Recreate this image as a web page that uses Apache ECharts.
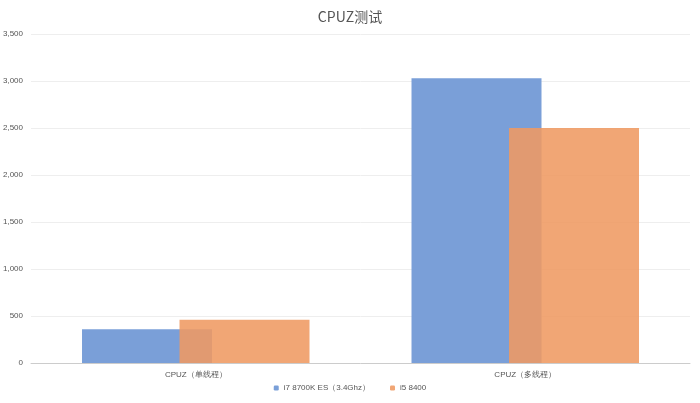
<!DOCTYPE html>
<html>
<head>
<meta charset="utf-8">
<script src="https://cdn.jsdelivr.net/npm/echarts@6/dist/echarts.min.js"></script>
</head>
<body style="margin:0">
<div id="main" style="width:700px;height:403px;"></div>
<script>
var categories = ['CPUZ（单线程）', 'CPUZ（多线程）'];
var seriesNames = ['i7 8700K ES（3.4Ghz）', 'i5 8400'];
var i7Values = [360, 3030];
var i5Values = [460, 2500];

var chart = echarts.init(document.getElementById('main'));
chart.setOption({
  title: { text: 'CPUZ测试', left: 'center', top: 5, textStyle: { fontSize: 14, fontWeight: 'normal', color: '#555', fontFamily: 'Noto Sans CJK SC' } },
  legend: { bottom: 6, itemWidth: 5, itemHeight: 5, itemGap: 20, textStyle: { fontSize: 8, color: '#555' }, data: seriesNames },
  grid: { left: 25, right: 10, top: 34, bottom: 40 },
  xAxis: {
    type: 'category', data: categories,
    axisTick: { show: false },
    axisLine: { lineStyle: { color: '#ccc' } },
    axisLabel: { fontSize: 8, color: '#555', margin: 8 }
  },
  yAxis: {
    type: 'value', min: 0, max: 3500, interval: 500,
    axisLabel: { fontSize: 8, color: '#555' },
    splitLine: { lineStyle: { color: '#eee' } }
  },
  series: [
    { name: seriesNames[0], type: 'bar', data: i7Values, barWidth: 130, barGap: '-25%', itemStyle: { color: '#7a9fd8' } },
    { name: seriesNames[1], type: 'bar', data: i5Values, barWidth: 130, itemStyle: { color: '#ef9a62', opacity: 0.88 } }
  ]
});
</script>
</body>
</html>
